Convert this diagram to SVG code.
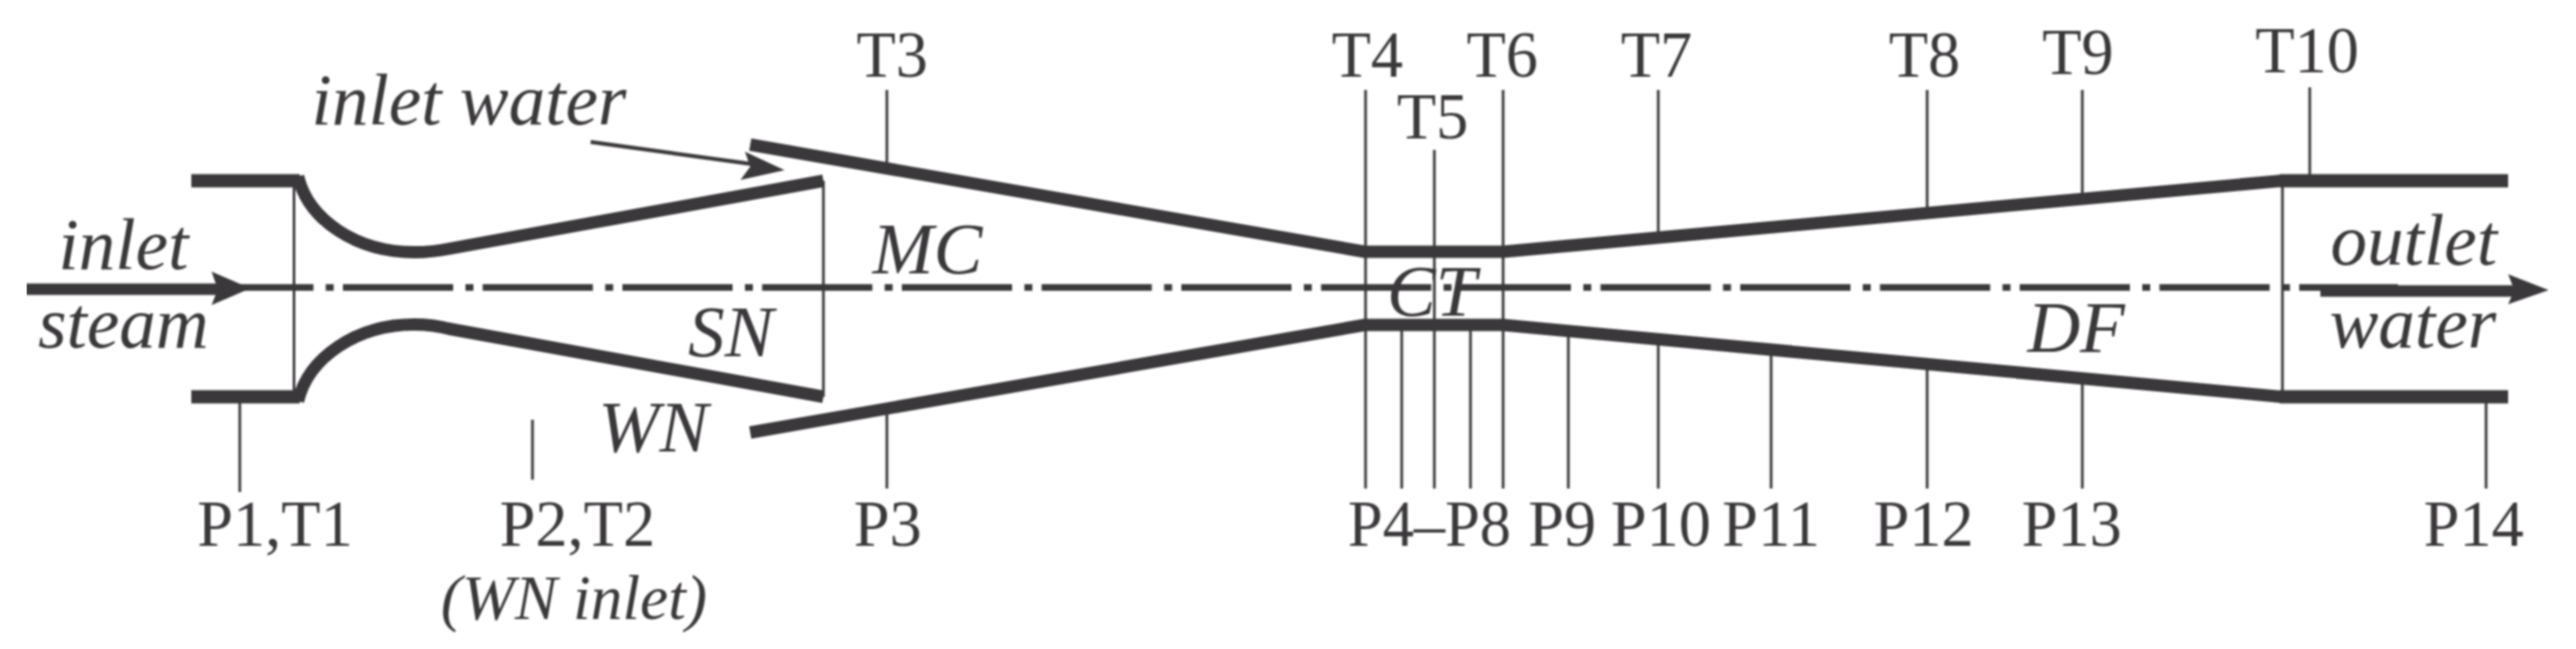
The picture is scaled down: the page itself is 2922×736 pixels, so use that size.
<svg xmlns="http://www.w3.org/2000/svg" width="2922" height="736" viewBox="0 0 2922 736">
<style>
.wall{fill:none;stroke:#3a383a;stroke-width:14;stroke-linejoin:round}
.pipe{fill:none;stroke:#3a383a;stroke-width:15}
.thin{fill:none;stroke:#3a383a;stroke-width:3}
.axis{fill:none;stroke:#3a383a;stroke-width:7.500;stroke-dasharray:125 14 9 10.5}
.flow{fill:none;stroke:#3a383a;stroke-width:13}
.head{fill:#3a383a;stroke:none}
text{font-family:"Liberation Serif","Times New Roman",serif;fill:#3a383a;text-anchor:middle}
.n{font-size:73px}
.i{font-size:83px;font-style:italic}
</style>
<defs><filter id="soft" x="0" y="0" width="100%" height="100%"><feGaussianBlur stdDeviation="0.8"/></filter></defs>
<rect width="2922" height="736" fill="#ffffff"/>
<g filter="url(#soft)">
<g id="nozzle-walls">
<path class="pipe" d="M217 205H340"/>
<path class="pipe" d="M217 450H340"/>
<path class="wall" d="M338 200C350 250 405 286 470 286C485 286 495 285 510 282L934 205"/>
<path class="wall" d="M338 455C350 405 405 368 470 368C485 368 495 369 510 373L934 450"/>
<path class="wall" d="M851 164L1548 285.500H1705L2588 205"/>
<path class="wall" d="M851 490.500L1548 368.500H1705L2588 450"/>
<path class="pipe" d="M2586 205H2845"/>
<path class="pipe" d="M2586 450H2845"/>
</g>
<g id="axis"><path class="axis" d="M230.500 326H2720"/></g>
<g id="connectors">
<path class="flow" d="M30 328H250"/>
<path class="head" d="M284 327L240 308L247 328L240 346Z"/>
<path class="flow" d="M2632 330H2860"/>
<path class="head" d="M2891 329L2845 311L2852 329L2845 345Z"/>
<path class="thin" style="stroke-width:4.500" d="M670 161L860 187"/>
<path class="head" d="M890 193L845 172L851 189L840 204Z"/>
</g>
<g id="leaders">
<path class="thin" d="M333.500 200V450M934 205V450M2589 205V450"/>
<path class="thin" d="M1006 102V188M1549 102V554M1705 102V554M1627 170V554M1881 102V265M2186 102V237M2362 102V221M2620 99V200"/>
<path class="thin" d="M272 453V558M604 476V544M1006 467V554M1590 373V554M1668 373V554M1779 380V554M1881 390V554M2009 401V554M2186 418V554M2362 434V554M2820 455V554"/>
</g>
<g id="top-labels">
<text class="n" x="1012" y="87">T3</text>
<text class="n" x="1551" y="87">T4</text>
<text class="n" x="1625" y="157">T5</text>
<text class="n" x="1704" y="87">T6</text>
<text class="n" x="1879" y="87">T7</text>
<text class="n" x="2183" y="87">T8</text>
<text class="n" x="2357" y="84">T9</text>
<text class="n" x="2617" y="82">T10</text>
</g>
<g id="bottom-labels">
<text class="n" x="312" y="619">P1,T1</text>
<text class="n" x="655" y="619">P2,T2</text>
<text class="n" x="1007" y="619">P3</text>
<text class="n" x="1621.500" y="619" textLength="185" lengthAdjust="spacingAndGlyphs">P4–P8</text>
<text class="n" x="1772" y="619">P9</text>
<text class="n" x="1884" y="619">P10</text>
<text class="n" x="2009" y="619">P11</text>
<text class="n" x="2182" y="619">P12</text>
<text class="n" x="2350" y="619">P13</text>
<text class="n" x="2806" y="619">P14</text>
<text class="i" style="font-size:72px" x="651" y="702">(WN inlet)</text>
</g>
<g id="region-labels">
<text class="i" x="532" y="141">inlet water</text>
<text class="i" x="140" y="305">inlet</text>
<text class="i" x="140" y="394">steam</text>
<text class="i" x="829" y="404">SN</text>
<text class="i" x="741" y="512">WN</text>
<text class="i" x="1052" y="310">MC</text>
<text class="i" x="1624" y="358">CT</text>
<text class="i" x="2355" y="399">DF</text>
<text class="i" x="2738" y="300">outlet</text>
<text class="i" x="2737" y="394">water</text>
</g>
</g>
</svg>
